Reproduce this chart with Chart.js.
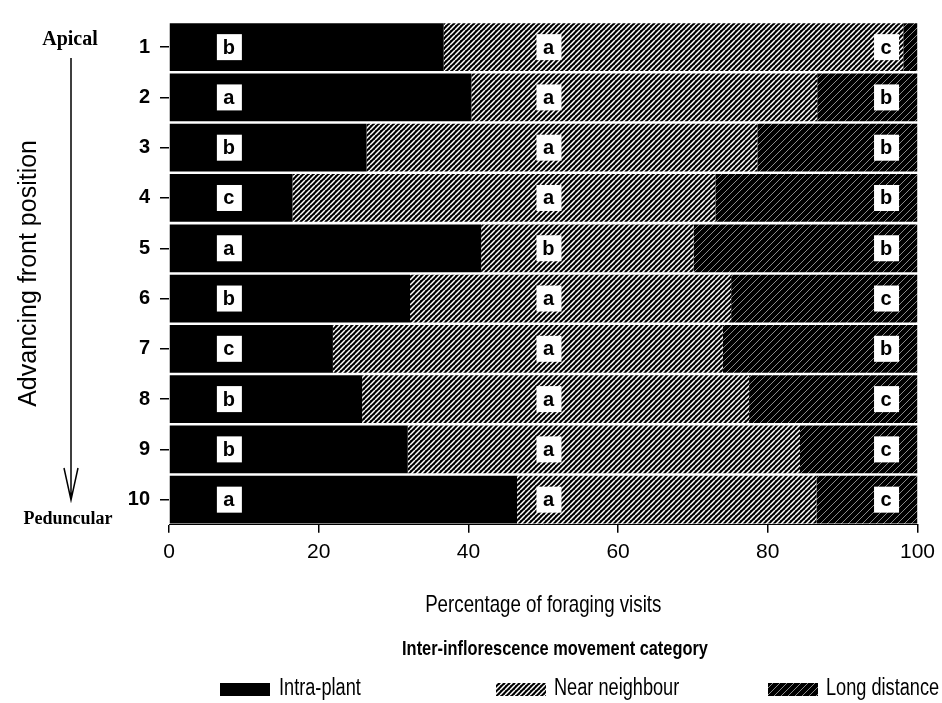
<!DOCTYPE html>
<html>
<head>
<meta charset="utf-8">
<script src="https://cdn.jsdelivr.net/npm/chart.js@4.4.0/dist/chart.umd.min.js"></script>
<style>
body{margin:0;background:#fff;}
</style>
</head>
<body>
<canvas id="chart" width="942" height="703"></canvas>
<script>
const positions = ['1','2','3','4','5','6','7','8','9','10'];
const intraPlant    = [36.7, 40.4, 26.4, 16.5, 41.7, 32.2, 21.9, 25.8, 31.9, 46.5];
const nearNeighbour = [61.4, 46.2, 52.2, 56.5, 28.4, 42.9, 52.1, 51.7, 52.4, 40.0];
const longDistance  = [1.9, 13.4, 21.4, 27.0, 29.9, 24.9, 26.0, 22.5, 15.7, 13.5];
const intraLetters = ['b','a','b','c','a','b','c','b','b','a'];
const nearLetters  = ['a','a','a','a','b','a','a','a','a','a'];
const longLetters  = ['c','b','b','b','b','c','b','c','c','c'];
const seriesNames = ['Intra-plant','Near neighbour','Long distance'];
const letterAt = [8, 50.7, 95.8];   // % position of the letter boxes per series

const SANS = "'Liberation Sans', Arial, sans-serif";
const SERIF = "'Liberation Serif', 'Times New Roman', serif";

const canvas = document.getElementById('chart');
const ctx = canvas.getContext('2d');

function hatch(size, color, width){
    const c = document.createElement('canvas');
    c.width = size; c.height = size;
    const g = c.getContext('2d');
    g.fillStyle = '#000';
    g.fillRect(0, 0, size, size);
    g.strokeStyle = color;
    g.lineWidth = width;
    g.beginPath();
    for(let k = -1; k <= 1; k++){
        g.moveTo(k*size, size);
        g.lineTo(k*size + size, 0);
    }
    g.stroke();
    return ctx.createPattern(c, 'repeat');
}

const fills = ['#000', hatch(5, '#fff', 1.5), hatch(7, '#8a8a8a', 1)];
const letters = [intraLetters, nearLetters, longLetters];

// condensed text (the figure uses a narrow face)
function narrowText(ctx, text, x, y, squeeze){
    ctx.fillText(text, x, y, ctx.measureText(text).width * squeeze);
}

// white letter boxes on the bars
const letterBoxes = {
    id: 'letterBoxes',
    afterDatasetsDraw(chart){
        const {ctx, scales} = chart;
        ctx.save();
        ctx.font = 'bold 20px ' + SANS;
        ctx.textAlign = 'center';
        ctx.textBaseline = 'middle';
        letters.forEach((list, i)=>{
            list.forEach((l, j)=>{
                const x = scales.x.getPixelForValue(letterAt[i]);
                const y = scales.y.getPixelForValue(j);
                ctx.fillStyle = '#fff';
                ctx.fillRect(x - 12, y - 13, 25, 26);
                ctx.fillStyle = '#000';
                ctx.fillText(l, x, y + 1);
            });
        });
        ctx.restore();
    }
};

// Apical / Peduncular arrow, axis title, legend heading and legend
const extras = {
    id: 'extras',
    afterDraw(chart){
        const {ctx, chartArea} = chart;
        ctx.save();
        ctx.fillStyle = '#000';
        ctx.strokeStyle = '#000';
        ctx.textAlign = 'center';
        ctx.textBaseline = 'middle';
        ctx.font = 'bold 20px ' + SERIF;
        ctx.fillText('Apical', 70, 40);
        ctx.font = 'bold 18px ' + SERIF;
        ctx.fillText('Peduncular', 68, 519);

        ctx.lineWidth = 1.5;
        ctx.beginPath();
        ctx.moveTo(71, 58); ctx.lineTo(71, 500);
        ctx.moveTo(64, 468); ctx.lineTo(71, 500); ctx.lineTo(78, 468);
        ctx.stroke();

        ctx.font = '24px ' + SANS;
        narrowText(ctx, 'Percentage of foraging visits', (chartArea.left + chartArea.right) / 2, 605, 0.78);

        ctx.font = 'bold 21px ' + SANS;
        narrowText(ctx, 'Inter-inflorescence movement category', 555, 649, 0.78);

        const items = [{box: 220, text: 279}, {box: 496, text: 554}, {box: 768, text: 826}];
        ctx.font = '23px ' + SANS;
        ctx.textAlign = 'left';
        items.forEach((it, i)=>{
            ctx.fillStyle = chart.data.datasets[i].backgroundColor;
            ctx.fillRect(it.box, 683, 50, 13);
            ctx.fillStyle = '#000';
            narrowText(ctx, seriesNames[i], it.text, 689, 0.79);
        });
        ctx.restore();
    }
};

new Chart(ctx, {
    type: 'bar',
    data: {
        labels: positions,
        datasets: [
            {label: seriesNames[0], data: intraPlant, backgroundColor: fills[0]},
            {label: seriesNames[1], data: nearNeighbour, backgroundColor: fills[1]},
            {label: seriesNames[2], data: longDistance, backgroundColor: fills[2]}
        ]
    },
    options: {
        indexAxis: 'y',
        responsive: false,
        animation: false,
        barPercentage: 0.95,
        categoryPercentage: 1,
        layout: {padding: {top: 17, right: 23, bottom: 131, left: 0}},
        plugins: {legend: {display: false}, tooltip: {enabled: false}},
        scales: {
            x: {
                stacked: true,
                min: 0,
                max: 100,
                ticks: {stepSize: 20, color: '#000', padding: 7, font: {family: SANS, size: 21}},
                grid: {drawOnChartArea: false, tickLength: 8, color: '#000', lineWidth: 1.5},
                border: {display: true, color: '#000', width: 1}
            },
            y: {
                stacked: true,
                ticks: {color: '#000', padding: 10, font: {family: SANS, size: 20, weight: 'bold'}},
                grid: {drawOnChartArea: false, offset: false, tickLength: 9, color: '#000', lineWidth: 1.5},
                border: {display: false},
                title: {display: true, text: 'Advancing front position', color: '#000',
                        font: {family: SANS, size: 25}, padding: {top: 14, bottom: 0}},
                afterFit(scale){ scale.width = 169; }
            }
        }
    },
    plugins: [letterBoxes, extras]
});
</script>
</body>
</html>
